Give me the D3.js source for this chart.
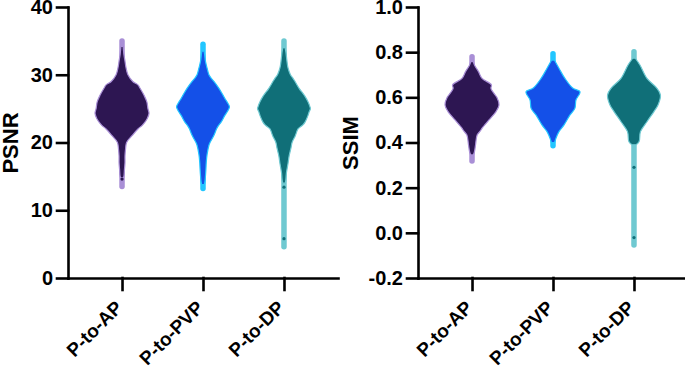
<!DOCTYPE html>
<html>
<head>
<meta charset="utf-8">
<script src="https://cdn.jsdelivr.net/npm/d3@7"></script>
<style>
  body { margin: 0; background: #fff; }
  svg { display: block; font-family: "Liberation Sans", Arial, sans-serif; }
</style>
</head>
<body>
<div id="chart"></div>
<script>
// categories
var groups = ["P-to-AP", "P-to-PVP", "P-to-DP"];

// PSNR: [value, relative density (0-100)]
var psnrAP = [[34.2,4],[33,7],[32,11],[31,15],[30,22],[29,40],[28.5,59],[28,67],[27,81],[26,92],[25,96],[24.3,100],
    [23.5,93],[23,85],[22.5,74],[22,59],[21,37],[20,17],[19,13],[18,11],[17,11],[16,9],[15,7],[14.8,5]];
var psnrPVP = [[33.5,4],[33,6],[32,9],[31,15],[30,22],[29.5,30],[29,41],[28,59],[27,74],[26.5,81],[26,89],[25.3,98],
    [25,96],[24.5,89],[24,81],[23,67],[22.6,59],[22,50],[21.1,41],[20,26],[19.6,22],[18.2,15],[17,12],[16.2,11],[15,9],[14.2,7],[13.8,5]];
var psnrDP = [[34,4],[33.4,7],[32,11],[31,15],[30,24],[29.5,33],[29,41],[28,56],[26.8,78],[26,89],[25.3,96],[25,98],
    [24.5,93],[24,89],[23,78],[22.6,70],[22,52],[21,42],[20,30],[19.2,26],[18,19],[16.9,15],[15.5,9],[14.5,7],[14,5]];
var psnrMin = [13.5, 13.2, 4.6];
var psnrMax = [35.0, 34.5, 35.0];
var psnrOutliers = [[0, 14.6], [2, 13.4], [2, 5.8]];
var psnrTicks = [0, 10, 20, 30, 40];

// SSIM
var ssimAP = [[0.758,5],[0.743,9],[0.714,24],[0.684,37],[0.655,72],[0.64,70],[0.62,80],[0.60,92],[0.566,100],
    [0.537,89],[0.50,63],[0.463,37],[0.45,30],[0.433,19],[0.389,13],[0.359,9],[0.345,5]];
var ssimPVP = [[0.765,5],[0.729,22],[0.684,44],[0.640,74],[0.625,100],[0.588,85],[0.551,81],[0.522,63],
    [0.478,41],[0.448,22],[0.419,11],[0.40,6]];
var ssimDP = [[0.773,5],[0.743,22],[0.684,48],[0.640,85],[0.610,98],[0.566,89],[0.537,74],[0.492,48],
    [0.448,24],[0.404,19],[0.39,8]];
var ssimMin = [0.318, 0.386, -0.054];
var ssimMax = [0.780, 0.793, 0.802];
var ssimOutliers = [[2, 0.290], [2, -0.021]];
var ssimTicks = [-0.2, 0, 0.2, 0.4, 0.6, 0.8, 1.0];

var darkColors = ["#2d1652", "#1450e8", "#106f78"];
var lightColors = ["#a98fd6", "#22c6ff", "#6fc9d1"];

var svg = d3.select("#chart").append("svg")
    .attr("width", 685)
    .attr("height", 369);

ViolinPanel = function(opts) {
    var vis = this;
    vis.opts = opts;
    vis.initVis();
}

ViolinPanel.prototype.initVis = function() {
    var vis = this;
    var o = vis.opts;

    vis.g = svg.append("g");

    vis.y = d3.scaleLinear().domain(o.domain).range([278, 7]);
    vis.x = d3.scalePoint().domain(groups).range([o.left, o.right]).padding(0.667);
    vis.w = d3.scaleLinear().domain([0, 100]).range([0, 27]);

    vis.area = d3.area()
        .y(function(d) { return vis.y(d[0]); })
        .x0(function(d) { return -vis.w(d[1]); })
        .x1(function(d) { return vis.w(d[1]); })
        .curve(d3.curveCatmullRom);

    // range bars
    vis.g.selectAll(".range")
        .data(groups)
        .enter().append("line")
        .attr("class", "range")
        .attr("x1", function(d) { return vis.x(d); })
        .attr("x2", function(d) { return vis.x(d); })
        .attr("y1", function(d, i) { return vis.y(o.min[i]); })
        .attr("y2", function(d, i) { return vis.y(o.max[i]); })
        .attr("stroke", function(d, i) { return lightColors[i]; })
        .attr("stroke-width", 5.5)
        .attr("stroke-linecap", "round");

    // violins
    vis.g.selectAll(".violin")
        .data(o.series)
        .enter().append("path")
        .attr("class", "violin")
        .attr("transform", function(d, i) { return "translate(" + vis.x(groups[i]) + ",0)"; })
        .attr("d", function(d) { return vis.area(d); })
        .attr("fill", function(d, i) { return darkColors[i]; })
        .attr("stroke", function(d, i) { return lightColors[i]; })
        .attr("stroke-width", 1.2)
        .attr("stroke-linejoin", "round");

    // single points on the tails
    vis.g.selectAll(".pt")
        .data(o.outliers)
        .enter().append("circle")
        .attr("class", "pt")
        .attr("cx", function(d) { return vis.x(groups[d[0]]); })
        .attr("cy", function(d) { return vis.y(d[1]); })
        .attr("r", 1.6)
        .attr("fill", function(d) { return darkColors[d[0]]; });

    // axes
    var yAxis = d3.axisLeft(vis.y)
        .tickValues(o.ticks)
        .tickFormat(o.format)
        .tickSize(11)
        .tickSizeOuter(0)
        .tickPadding(4);

    var xAxis = d3.axisBottom(vis.x)
        .tickSize(12)
        .tickSizeOuter(0)
        .tickFormat("");

    var ya = vis.g.append("g")
        .attr("class", "y-axis")
        .attr("transform", "translate(" + o.left + ",0)")
        .call(yAxis);

    vis.g.append("g")
        .attr("class", "x-axis")
        .attr("transform", "translate(0,278)")
        .call(xAxis);

    vis.g.selectAll(".domain, .tick line")
        .attr("stroke", "#000")
        .attr("stroke-width", 2.6)
        .attr("stroke-linecap", "square");

    ya.selectAll("text")
        .attr("fill", "#000")
        .attr("font-size", 20)
        .attr("font-weight", "bold");

    // category labels at 45 degrees
    vis.g.selectAll(".xlabel")
        .data(groups)
        .enter().append("text")
        .attr("class", "xlabel")
        .attr("transform", function(d) { return "translate(" + (vis.x(d) - 3) + ",304) rotate(-45)"; })
        .attr("text-anchor", "end")
        .attr("dy", "0.35em")
        .attr("font-size", 19)
        .attr("font-weight", "bold")
        .text(function(d) { return d; });

    vis.g.append("text")
        .attr("transform", "translate(" + o.titleX + ",143) rotate(-90)")
        .attr("text-anchor", "middle")
        .attr("dy", "0.35em")
        .attr("font-size", 22)
        .attr("font-weight", "bold")
        .text(o.title);
}

new ViolinPanel({
    left: 68, right: 338,
    domain: [0, 40],
    ticks: psnrTicks,
    format: d3.format("d"),
    series: [psnrAP, psnrPVP, psnrDP],
    min: psnrMin, max: psnrMax,
    outliers: psnrOutliers,
    title: "PSNR", titleX: 10
});

new ViolinPanel({
    left: 418, right: 688,
    domain: [-0.2, 1.0],
    ticks: ssimTicks,
    format: function(d) { return d.toFixed(1); },
    series: [ssimAP, ssimPVP, ssimDP],
    min: ssimMin, max: ssimMax,
    outliers: ssimOutliers,
    title: "SSIM", titleX: 350
});
</script>
</body>
</html>
